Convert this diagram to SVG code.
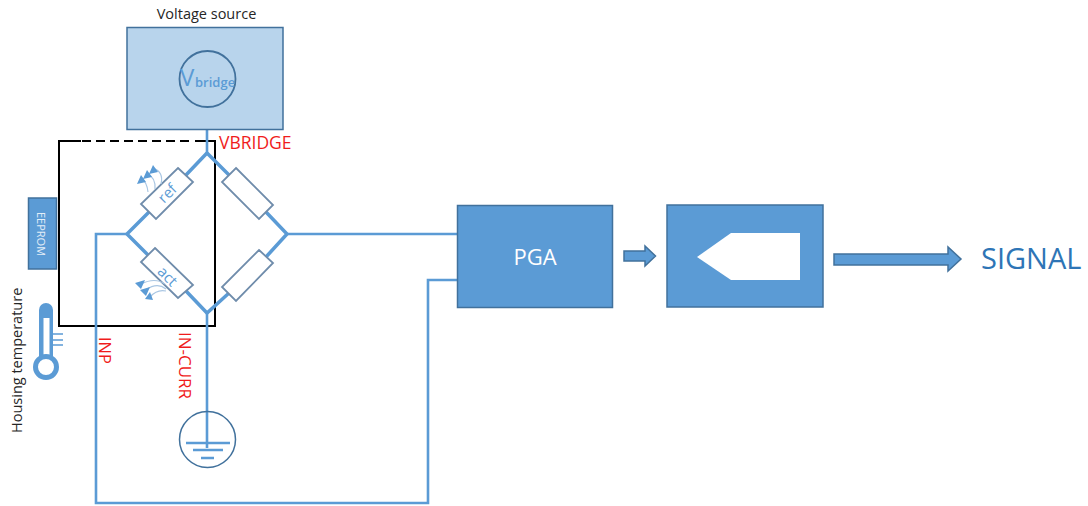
<svg xmlns="http://www.w3.org/2000/svg" width="1088" height="506" viewBox="0 0 1088 506">
<style>
text{font-family:"Open Sans","Noto Sans","Liberation Sans",sans-serif}
.w{fill:none;stroke:#5b9bd5;stroke-width:3.500}
.t{fill:none;stroke:#5b9bd5;stroke-width:2.600}
.r{fill:#fff;stroke:#6f8cab;stroke-width:1.800}
.b{fill:#5b9bd5;stroke:#41719c;stroke-width:1.500}
.red{fill:#f01c1c;font-size:16.500px}
.bk{fill:none;stroke:#000;stroke-width:2}
.ray{fill:none;stroke:#a9c6e3;stroke-width:1.200}
.tip{fill:#5b9bd5}
</style>
<g id="sensor-housing">
<path class="bk" d="M81 141H59V326H215V141H195"/>
<path class="bk" d="M82 141H190" stroke-dasharray="9 5"/>
</g>
<g id="connectors">
<path class="t" d="M207 107V153"/>
<path class="w" d="M207 153L186 175M149 212L127 234L149 256M186 291L207 313L229 293M266 257L287 234L266 212M229 175L207 153"/>
<path class="t" d="M287 234H457"/>
<path class="t" d="M127 234H96V503H428V280H457"/>
<path class="t" d="M207 313V448"/>
</g>
<g id="voltage-source">
<rect x="127" y="27.500" width="156" height="102" fill="#b8d4ec" stroke="#41719c" stroke-width="1.500"/>
<circle cx="207.500" cy="79" r="28" fill="#b8d4ec" stroke="#41719c" stroke-width="1.800"/>
<text x="180" y="86" font-size="24" fill="#5b9bd5">V</text>
<text x="195" y="87" font-size="13" font-weight="600" fill="#5b9bd5">bridge</text>
<text x="206.500" y="19" font-size="14.500" fill="#262626" text-anchor="middle">Voltage source</text>
</g>
<g id="resistor-ref">
<path class="r" d="M178 168L193 182L156 219L141 204Z"/>
<text transform="translate(171 197) rotate(-45)" font-size="15" fill="#5b9bd5" text-anchor="middle">ref</text>
<path class="ray" d="M141 178Q147 182 148 192M147 173Q156 178 155 189M153 168Q164 172 161 184"/>
<path class="tip" d="M141 175L137 184L146 182ZM147 170L143 179L152 177ZM153 165L149 174L158 172Z"/>
</g>
<g id="resistor-act">
<path class="r" d="M155 248L193 285L178 298L141 262Z"/>
<text transform="translate(164 280) rotate(45)" font-size="15" fill="#5b9bd5" text-anchor="middle">act</text>
<path class="ray" d="M141 284Q155 277 165 284M146 290Q157 282 166 289M150 297Q157 289 166 291"/>
<path class="tip" d="M135 283L145 280L141 289ZM140 290L150 287L146 296ZM145 299L153 300L150 292Z"/>
</g>
<g id="resistor-top-right">
<path class="r" d="M236 168L273 205L259 219L222 182Z"/>
</g>
<g id="resistor-bottom-right">
<path class="r" d="M259 250L273 263L236 301L222 287Z"/>
</g>
<g id="eeprom">
<rect x="28.500" y="198" width="28" height="71" class="b"/>
<text transform="translate(37 234) rotate(90)" font-size="11" fill="#e4eef8" text-anchor="middle">EEPROM</text>
</g>
<g id="thermometer">
<path d="M46 310V358" stroke="#5b9bd5" stroke-width="14" stroke-linecap="round" fill="none"/>
<rect x="43.500" y="318" width="6" height="42" fill="#fff"/>
<circle cx="46" cy="367" r="10.500" fill="#fff" stroke="#5b9bd5" stroke-width="5"/>
<path d="M53 334H63M53 340H63M53 345H63" stroke="#5b9bd5" stroke-width="1.500" fill="none"/>
<text transform="translate(22 433) rotate(-90)" font-size="14.500" fill="#262626">Housing temperature</text>
</g>
<g id="ground">
<circle cx="207.500" cy="439.500" r="28" fill="none" stroke="#41719c" stroke-width="1.500"/>
<path d="M186 443H230" stroke="#5b9bd5" stroke-width="2.500"/>
<path d="M193 450H223" stroke="#5b9bd5" stroke-width="2.500"/>
<path d="M201 458H214" stroke="#5b9bd5" stroke-width="2.500"/>
</g>
<g id="labels">
<text x="219" y="149" class="red" style="font-size:17.500px">VBRIDGE</text>
<text transform="translate(99 337) rotate(90)" class="red">INP</text>
<text transform="translate(179 332) rotate(90)" class="red" style="font-size:17px">IN-CURR</text>
</g>
<g id="pga">
<rect x="457.500" y="205.500" width="155" height="102" class="b"/>
<text x="535" y="265" font-size="22" fill="#fff" text-anchor="middle">PGA</text>
</g>
<g id="arrow-pga-adc">
<path class="b" d="M624 251H645V246L655.500 256L645 266V261H624Z"/>
</g>
<g id="adc">
<rect x="667" y="205" width="156" height="102" class="b"/>
<path d="M697 257L731 233H800V280H731Z" fill="#fff"/>
</g>
<g id="arrow-adc-signal">
<path class="b" d="M834 254H948V247L961 259L948 271V265H834Z"/>
</g>
<g id="signal">
<text x="981" y="269" font-size="29" fill="#2e75b6">SIGNAL</text>
</g>
</svg>
